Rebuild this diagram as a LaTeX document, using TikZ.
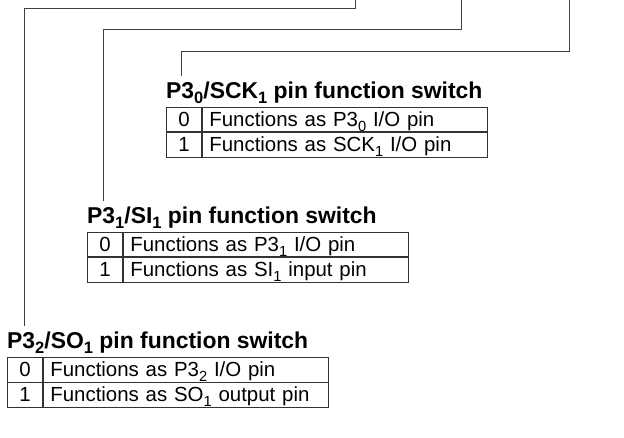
\documentclass[tikz,border=0pt]{standalone}
\usepackage{fontspec}
\setmainfont{Liberation Sans}
\usetikzlibrary{positioning}

\newcommand{\pinsub}[1]{\raisebox{-0.45ex}{\scalebox{0.72}{#1}}}

\begin{document}
\begin{tikzpicture}[
    x=1bp, y=-1bp,
    wire/.style={draw=black!75, line width=0.9bp},
    title/.style={inner sep=0pt, font=\fontsize{23}{26}\selectfont\bfseries},
    bitcell/.style={draw=black!80, line width=0.9bp, anchor=north west,
      minimum width=35bp, minimum height=24.5bp, inner sep=0pt,
      text height=15.5bp, text depth=2.5bp,
      font=\fontsize{20.5}{23}\selectfont},
    textcell/.style={bitcell, minimum width=285bp, text width=271bp,
      inner xsep=7bp, align=left},
  ]
  \useasboundingbox (0,0) rectangle (624,438);

  % === Lines from the register bits ===
  \coordinate (b0) at (569,0);
  \coordinate (b1) at (461,0);
  \coordinate (b2) at (355,0);
  \coordinate (e0) at (181,76);
  \coordinate (e1) at (103,201);
  \coordinate (e2) at (24,326);

  \draw[wire] (b0) -- ++(0,51) -| (e0);
  \draw[wire] (b1) -- ++(0,29) -| (e1);
  \draw[wire] (b2) -- ++(0,8) -| (e2);

  % === P3_0/SCK_1 switch ===
  \node[bitcell] (d00) at (166,107) {0};
  \node[textcell, right=0pt of d00] (f00) {Functions as P3\pinsub{0} I/O pin};
  \node[bitcell, below=0pt of d00] (d01) {1};
  \node[textcell, right=0pt of d01] (f01) {Functions as SCK\pinsub{1} I/O pin};
  \node[title, above right=3bp and 0pt of d00.north west] (t0)
    {P3\pinsub{0}/SCK\pinsub{1} pin function switch};

  % === P3_1/SI_1 switch ===
  \node[bitcell] (d10) at (87,232) {0};
  \node[textcell, right=0pt of d10] (f10) {Functions as P3\pinsub{1} I/O pin};
  \node[bitcell, below=0pt of d10] (d11) {1};
  \node[textcell, right=0pt of d11] (f11) {Functions as SI\pinsub{1} input pin};
  \node[title, above right=3bp and 0pt of d10.north west] (t1)
    {P3\pinsub{1}/SI\pinsub{1} pin function switch};

  % === P3_2/SO_1 switch ===
  \node[bitcell] (d20) at (7,357) {0};
  \node[textcell, right=0pt of d20] (f20) {Functions as P3\pinsub{2} I/O pin};
  \node[bitcell, below=0pt of d20] (d21) {1};
  \node[textcell, right=0pt of d21] (f21) {Functions as SO\pinsub{1} output pin};
  \node[title, above right=3bp and 0pt of d20.north west] (t2)
    {P3\pinsub{2}/SO\pinsub{1} pin function switch};

\end{tikzpicture}
\end{document}
